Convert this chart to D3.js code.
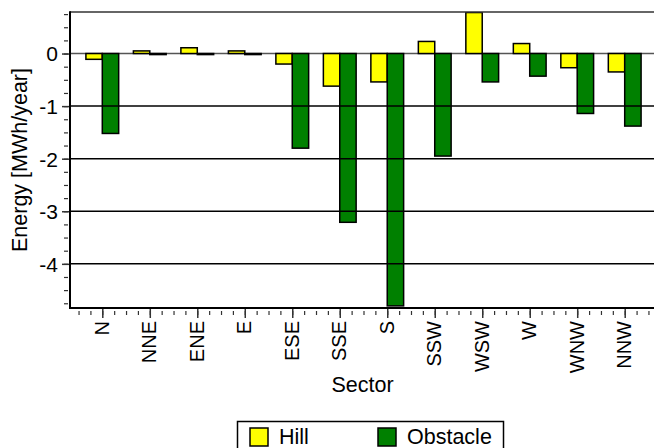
<!DOCTYPE html>
<html>
<head>
<meta charset="utf-8">
<script src="https://cdn.jsdelivr.net/npm/d3@7"></script>
<style>
body{margin:0;background:#fff;}
text{font-family:"Liberation Sans",Arial,sans-serif;font-size:20px;fill:#000;}
.titulo{font-size:21.5px;}
</style>
</head>
<body>
<script>
// sectores y valores
let sectores = ["N","NNE","ENE","E","ESE","SSE","S","SSW","WSW","W","WNW","NNW"];
let hill = [-0.11, 0.05, 0.11, 0.05, -0.20, -0.62, -0.54, 0.23, 0.78, 0.19, -0.27, -0.35];
let obstacle = [-1.52, -0.02, -0.02, -0.02, -1.80, -3.21, -4.80, -1.95, -0.54, -0.43, -1.14, -1.38];
let ticksY = [0, -1, -2, -3, -4];
let series = ["Hill", "Obstacle"];
let colores = ["#ffff00", "#008000"];

const W = 654, H = 448;
const mIzq = 70, mSup = 12, mInf = 308;

let svg = d3.select("body").append("svg").attr("width", W).attr("height", H);

let x = d3.scaleLinear().domain([-0.68, 11.68]).range([mIzq, 657]);
let y = d3.scaleLinear().domain([0.79, -4.84]).range([mSup, mInf]);
const anchoBarra = 0.345;

svg.append("clipPath").attr("id", "clip").append("rect")
    .attr("x", mIzq).attr("y", mSup).attr("width", 657 - mIzq).attr("height", mInf - mSup);

/* linea de cero */
svg.append("line").attr("x1", mIzq).attr("x2", W).attr("y1", y(0)).attr("y2", y(0))
    .attr("stroke", "#555").attr("stroke-width", 1.5);

let g = svg.append("g").attr("clip-path", "url(#clip)");

/* barras hill */
g.selectAll(".hill").data(hill).enter().append("rect")
    .attr("x", (d, i) => x(i - anchoBarra))
    .attr("width", (d, i) => x(i) - x(i - anchoBarra))
    .attr("y", d => y(Math.max(0, d)))
    .attr("height", d => Math.abs(y(d) - y(0)))
    .attr("fill", colores[0]).attr("stroke", "#000").attr("stroke-width", 1.5);

/* barras obstacle */
g.selectAll(".obst").data(obstacle).enter().append("rect")
    .attr("x", (d, i) => x(i))
    .attr("width", (d, i) => x(i + anchoBarra) - x(i))
    .attr("y", d => y(Math.max(0, d)))
    .attr("height", d => Math.abs(y(d) - y(0)))
    .attr("fill", colores[1]).attr("stroke", "#000").attr("stroke-width", 1.5);

/* lineas de grilla encima de las barras */
svg.selectAll(".grid").data(ticksY.filter(d => d !== 0)).enter().append("line")
    .attr("x1", mIzq).attr("x2", W).attr("y1", d => y(d)).attr("y2", d => y(d))
    .attr("stroke", "#000").attr("stroke-width", 1.5);

/* eje y */
let ejeY = svg.append("g").attr("transform", "translate(" + mIzq + ",0)")
    .call(d3.axisLeft(y).tickValues(d3.range(0.75, -4.8, -0.25)).tickSize(4).tickFormat(""));
ejeY.select(".domain").remove();
ejeY.selectAll(".tick line").attr("x1", -2).attr("x2", -6).attr("stroke", "#333").attr("stroke-width", 1.2);

let ejeY2 = svg.append("g").attr("transform", "translate(" + mIzq + ",0)")
    .call(d3.axisLeft(y).tickValues(ticksY).tickSize(8).tickPadding(4).tickFormat(d => String(d)));
ejeY2.select(".domain").remove();
ejeY2.selectAll(".tick line").attr("stroke", "#333").attr("stroke-width", 1.5);
ejeY2.selectAll(".tick text").style("font-size", "21px").attr("fill", "#000")
    .attr("font-family", null).attr("dy", "0.35em");

/* eje x */
let ejeX = svg.append("g").attr("transform", "translate(0," + mInf + ")")
    .call(d3.axisBottom(x).tickValues(d3.range(-0.5, 11.6, 0.25)).tickSize(7).tickFormat(""));
ejeX.select(".domain").remove();
ejeX.selectAll(".tick line").attr("y1", 3).attr("stroke", "#333").attr("stroke-width", 1.2);

let ejeX2 = svg.append("g").attr("transform", "translate(0," + mInf + ")")
    .call(d3.axisBottom(x).tickValues(d3.range(0, 12)).tickSize(10).tickFormat(""));
ejeX2.select(".domain").remove();
ejeX2.selectAll(".tick line").attr("stroke", "#333").attr("stroke-width", 1.5);

svg.selectAll(".xlab").data(sectores).enter().append("text")
    .attr("transform", (d, i) => "translate(" + (x(i) + 6.5) + ",321) rotate(-90)")
    .attr("text-anchor", "end")
    .text(d => d);

/* marco */
svg.append("line").attr("x1", mIzq).attr("x2", W).attr("y1", mSup).attr("y2", mSup)
    .attr("stroke", "#333").attr("stroke-width", 1.5);
svg.append("line").attr("x1", mIzq).attr("x2", mIzq).attr("y1", mSup - 0.75).attr("y2", mInf + 1)
    .attr("stroke", "#000").attr("stroke-width", 2);
svg.append("line").attr("x1", mIzq - 1).attr("x2", W).attr("y1", mInf).attr("y2", mInf)
    .attr("stroke", "#000").attr("stroke-width", 2);

/* titulos */
svg.append("text").attr("class", "titulo").attr("transform", "translate(27,160) rotate(-90)")
    .attr("text-anchor", "middle").text("Energy [MWh/year]");
svg.append("text").attr("class", "titulo").attr("x", 362.5).attr("y", 392)
    .attr("text-anchor", "middle").text("Sector");

/* leyenda */
svg.append("rect").attr("x", 237.5).attr("y", 421.5).attr("width", 266).attr("height", 40)
    .attr("fill", "none").attr("stroke", "#000").attr("stroke-width", 1.5);
let leyenda = svg.selectAll(".ley").data(series).enter().append("g")
    .attr("transform", (d, i) => "translate(" + (250 + i * 128) + ",428)");
leyenda.append("rect").attr("width", 18).attr("height", 18)
    .attr("fill", (d, i) => colores[i]).attr("stroke", "#000").attr("stroke-width", 1.5);
leyenda.append("text").attr("class", "titulo").attr("x", 29).attr("y", 15.5).text(d => d);
</script>
</body>
</html>
